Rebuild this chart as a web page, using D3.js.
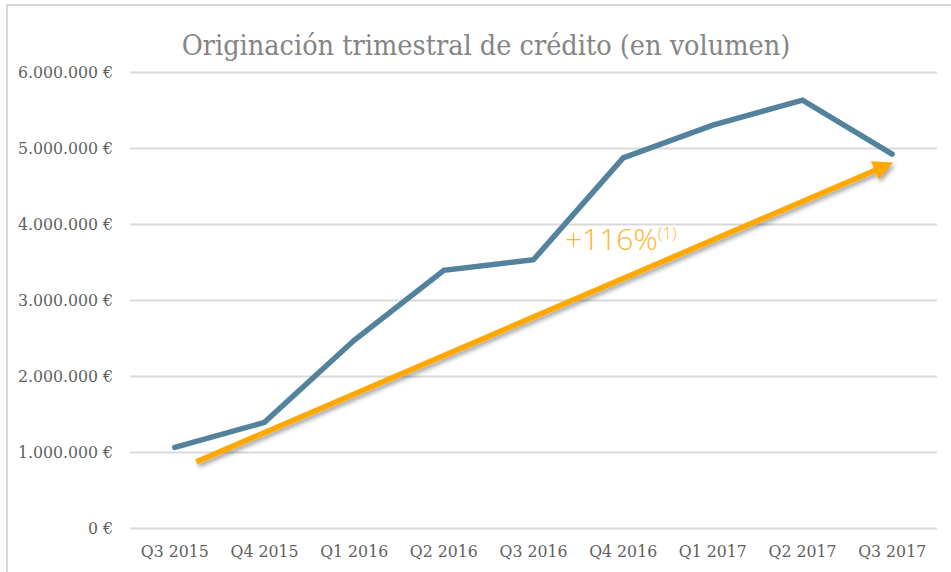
<!DOCTYPE html>
<html><head><meta charset="utf-8">
<script src="https://cdn.jsdelivr.net/npm/d3@7"></script>
<style>body{margin:0;background:#fff}</style>
</head><body>
<svg id="c" width="951" height="572"></svg>
<script>
const quarters = ["Q3 2015","Q4 2015","Q1 2016","Q2 2016","Q3 2016","Q4 2016","Q1 2017","Q2 2017","Q3 2017"];
const volumes = [1060000,1390000,2470000,3390000,3530000,4870000,5300000,5630000,4920000];
const yTicks = [0,1000000,2000000,3000000,4000000,5000000,6000000];
// trend arrow annotation: [category index offset, value]
const arrowStart = [0.24, 870000];
const arrowEnd = [8.04, 4820000];
const growthLabel = "+116%";
const growthNote = "(1)";
const title = "Originación trimestral de crédito (en volumen)";

(function(){
const svg = d3.select("#c");
const W = 951, H = 572;
const mL = 130, mR = 937, mT = 72, mB = 528;
const font = "'DejaVu Serif Condensed','DejaVu Serif',serif";

const defs = svg.append("defs");
const f = defs.append("filter").attr("id","sh").attr("x","-10%").attr("y","-10%").attr("width","130%").attr("height","140%");
f.append("feDropShadow").attr("dx",2).attr("dy",3).attr("stdDeviation",2).attr("flood-color","#000").attr("flood-opacity",0.35);
defs.append("marker").attr("id","ah").attr("viewBox","0 0 10 10").attr("refX",6).attr("refY",5)
  .attr("markerWidth",4).attr("markerHeight",3.6).attr("orient","auto").attr("markerUnits","strokeWidth")
  .append("path").attr("d","M0,0 L10,5 L0,10 Z").attr("fill","#FFA800");

// frame
svg.append("line").attr("x1",7).attr("x2",7).attr("y1",5).attr("y2",H).attr("stroke","#d9d9d9").attr("stroke-width",2);
svg.append("line").attr("x1",6).attr("x2",W).attr("y1",5).attr("y2",5).attr("stroke","#d9d9d9").attr("stroke-width",2);

const x = d3.scaleBand().domain(quarters).range([mL,mR]);
const y = d3.scaleLinear().domain([0,6000000]).range([mB,mT]);
const xi = i => mL + x.bandwidth()*(i+0.5);

const fmt = v => d3.format(",")(v).replace(/,/g,".") + " €";

const ya = svg.append("g").attr("transform",`translate(${mL},0)`)
  .call(d3.axisLeft(y).tickValues(yTicks).tickSize(-(mR-mL)).tickFormat(fmt).tickPadding(17));
ya.select(".domain").remove();
ya.selectAll(".tick line").attr("stroke","#d9d9d9").attr("stroke-width",2);
ya.selectAll("text").attr("fill","#606060").style("font-family",font).style("font-size","17.5px");

const xa = svg.append("g").attr("transform",`translate(0,${mB})`)
  .call(d3.axisBottom(x).tickSize(0).tickPadding(17));
xa.select(".domain").remove();
xa.selectAll("text").attr("fill","#606060").style("font-family",font).style("font-size","17.5px");

svg.append("text").attr("x",486).attr("y",55).attr("text-anchor","middle")
  .attr("fill","#858585").style("font-family",font).style("font-size","28.5px").text(title);

// series line
svg.append("path").datum(volumes)
  .attr("d", d3.line().x((d,i)=>xi(i)).y(d=>y(d)))
  .attr("fill","none").attr("stroke","#53829C").attr("stroke-width",5.5)
  .attr("stroke-linejoin","miter").attr("stroke-linecap","round");

// trend arrow
svg.append("line")
  .attr("x1",xi(arrowStart[0])).attr("y1",y(arrowStart[1]))
  .attr("x2",xi(arrowEnd[0])-10).attr("y2",y(arrowEnd[1])+4)
  .attr("stroke","#FFA800").attr("stroke-width",5.5).attr("marker-end","url(#ah)").attr("filter","url(#sh)");

const t = svg.append("text").attr("x",565).attr("y",250).attr("fill","#FFB52E")
  .style("font-family","'Open Sans',sans-serif").style("font-weight",300).style("font-size","30px");
t.append("tspan").text(growthLabel);
t.append("tspan").attr("dy",-11).style("font-size","17px").text(growthNote);
})();
</script>
</body></html>
